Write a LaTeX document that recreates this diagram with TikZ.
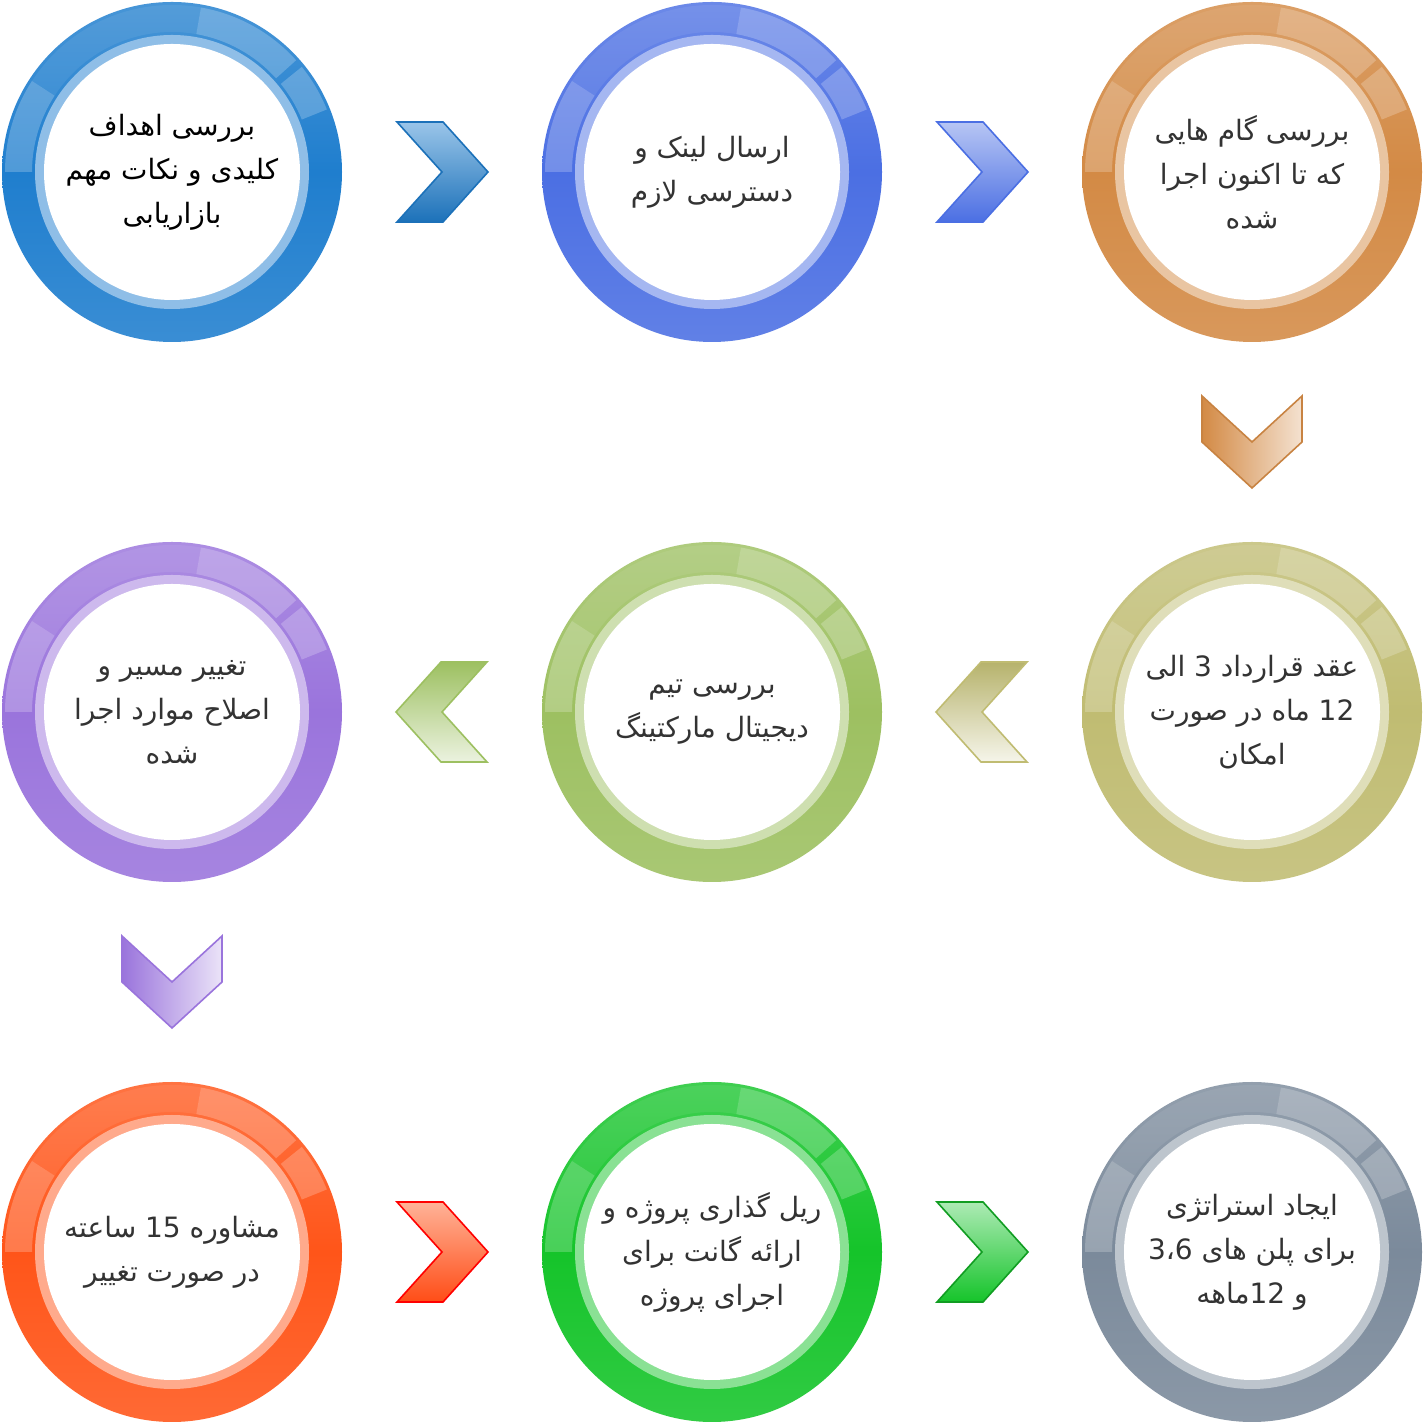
\documentclass[tikz,border=0pt]{standalone}
\usepackage{fontspec}
\TeXXeTstate=1
\newfontfamily\fa[Script=Arabic]{DejaVu Sans}
\usetikzlibrary{calc}
\definecolor{c1}{HTML}{1F7ECE}
\definecolor{c2}{HTML}{4B6FE3}
\definecolor{c3}{HTML}{D38A45}
\definecolor{c4}{HTML}{C0BC72}
\definecolor{c5}{HTML}{9DC061}
\definecolor{c6}{HTML}{9A74DC}
\definecolor{c7}{HTML}{FF5519}
\definecolor{c8}{HTML}{15C42A}
\definecolor{c9}{HTML}{7B8A9B}
\definecolor{txt}{HTML}{333333}
\newcommand\glossring[2]{%
 \begin{scope}[shift={(#1)}]
  \shade[top color=#2!82!white, bottom color=#2!88!white, middle color=#2] (0,0) circle[radius=170];
  \fill[white, opacity=.07] (80:167) arc[start angle=80,end angle=147,radius=167] -- (147:140) arc[start angle=147,end angle=80,radius=140] -- cycle;
  \fill[white, opacity=.22] (147:167) arc[start angle=147,end angle=180,radius=167] -- (180:140) arc[start angle=180,end angle=147,radius=140] -- cycle;
  \fill[white, opacity=.22] (42:167) arc[start angle=42,end angle=80,radius=167] -- (80:140) arc[start angle=80,end angle=42,radius=140] -- cycle;
  \fill[white, opacity=.22] (22:167) arc[start angle=22,end angle=39,radius=167] -- (39:140) arc[start angle=39,end angle=22,radius=140] -- cycle;
  \fill[#2!50!white] (0,0) circle[radius=137];
 \end{scope}}
\tikzset{
  ringtext/.style={circle, fill=white, minimum size=128pt, inner sep=0pt, align=center,
    font=\fa\fontsize{14}{22}\selectfont, text=txt},
  chev/.style={line width=0.8pt, line join=miter},
}
\newcommand\chevR[4]{% at, top, bottom, border
  \shade[chev, top color=#2, bottom color=#3, draw=#4, shift={(#1)}]
   (-45,50) -- (1,50) -- (46,0) -- (1,-50) -- (-45,-50) -- (0,0) -- cycle;}
\newcommand\chevL[4]{%
  \shade[chev, top color=#2, bottom color=#3, draw=#4, shift={(#1)}]
   (45,50) -- (-1,50) -- (-46,0) -- (-1,-50) -- (45,-50) -- (0,0) -- cycle;}
\newcommand\chevD[4]{% at, left, right, border
  \shade[chev, left color=#2, right color=#3, draw=#4, shift={(#1)}]
   (-50,46) -- (0,0) -- (50,46) -- (50,0) -- (0,-46) -- (-50,0) -- cycle;}
\begin{document}
\begin{tikzpicture}[x=0.5pt,y=0.5pt]
\fill[white] (0,0) rectangle (1424,1424);
\useasboundingbox (0,0) rectangle (1424,1424);
% centres
\coordinate (p1) at (172,1252);
\coordinate (p2) at (712,1252);
\coordinate (p3) at (1252,1252);
\coordinate (p4) at (1252,712);
\coordinate (p5) at (712,712);
\coordinate (p6) at (172,712);
\coordinate (p7) at (172,172);
\coordinate (p8) at (712,172);
\coordinate (p9) at (1252,172);
\glossring{p1}{c1}
\glossring{p2}{c2}
\glossring{p3}{c3}
\glossring{p4}{c4}
\glossring{p5}{c5}
\glossring{p6}{c6}
\glossring{p7}{c7}
\glossring{p8}{c8}
\glossring{p9}{c9}
\node[ringtext, text=black] (s1) at (p1) {\beginR بررسی اهداف\endR\\\beginR کلیدی و نکات مهم\endR\\\beginR بازاریابی\endR};
\node[ringtext] (s2) at (p2) {\beginR ارسال لینک و\endR\\\beginR دسترسی لازم\endR};
\node[ringtext] (s3) at (p3) {\beginR بررسی گام هایی\endR\\\beginR که تا اکنون اجرا\endR\\\beginR شده\endR};
\node[ringtext] (s4) at (p4) {\beginR عقد قرارداد \beginL 3\endL{} الی\endR\\\beginR \beginL 12\endL{} ماه در صورت\endR\\\beginR امکان\endR};
\node[ringtext] (s5) at (p5) {\beginR بررسی تیم\endR\\\beginR دیجیتال مارکتینگ\endR};
\node[ringtext] (s6) at (p6) {\beginR تغییر مسیر و\endR\\\beginR اصلاح موارد اجرا\endR\\\beginR شده\endR};
\node[ringtext] (s7) at (p7) {\beginR مشاوره \beginL 15\endL{} ساعته\endR\\\beginR در صورت تغییر\endR};
\node[ringtext] (s8) at (p8) {\beginR ریل گذاری پروژه و\endR\\\beginR ارائه گانت برای\endR\\\beginR اجرای پروژه\endR};
\node[ringtext] (s9) at (p9) {\beginR ایجاد استراتژی\endR\\\beginR برای پلن های \beginL 3،6\endL\endR\\\beginR و \beginL 12\endL{}ماهه\endR};
% chevrons between steps
\chevR{$(s1)!0.5!(s2)$}{c1!45!white}{c1!90!black}{c1!90!black}
\chevR{$(s2)!0.5!(s3)$}{c2!40!white}{c2}{c2}
\chevD{$(s3)!0.5!(s4)$}{c3}{c3!25!white}{c3!95!black}
\chevL{$(s4)!0.5!(s5)$}{c4!95!black}{c4!15!white}{c4}
\chevL{$(s5)!0.5!(s6)$}{c5}{c5!20!white}{c5}
\chevD{$(s6)!0.5!(s7)$}{c6}{c6!20!white}{c6}
\chevR{$(s7)!0.5!(s8)$}{c7!45!white}{c7!90!red}{red}
\chevR{$(s8)!0.5!(s9)$}{c8!35!white}{c8}{c8!80!black}
\end{tikzpicture}
\end{document}
